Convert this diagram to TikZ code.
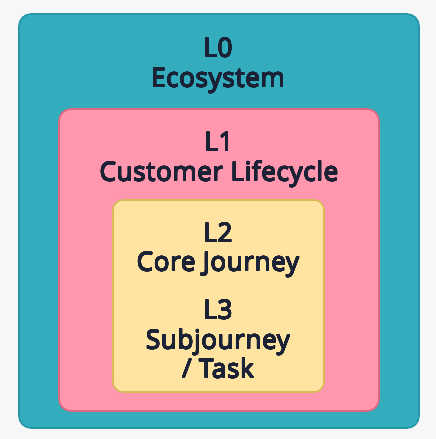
\documentclass[tikz,border=0pt]{standalone}
\usepackage{fontspec}
\usepackage[copies]{contour}
\contournumber{24}
\contourlength{0.35pt}
\setmainfont{Open Sans}
\newfontfamily\lblfont{Open Sans}[LetterSpace=2.5]
\definecolor{bgc}{HTML}{F7F7F7}
\definecolor{tealf}{HTML}{33ACBE}
\definecolor{teald}{HTML}{2596A8}
\definecolor{pinkf}{HTML}{FF97AE}
\definecolor{pinkd}{HTML}{E2677F}
\definecolor{yelf}{HTML}{FFE3A1}
\definecolor{yeld}{HTML}{D9BA55}
\definecolor{txt}{HTML}{1B2236}
\newcommand{\heavy}[1]{\contour{txt}{#1}}
\begin{document}
\begin{tikzpicture}[x=1pt,y=1pt,
  box/.style={rectangle,rounded corners=12pt,line width=1.6pt,inner sep=0pt},
  lbl/.style={anchor=base,text=txt,font=\lblfont\fontsize{26}{30}\selectfont,inner sep=0pt}]
\fill[bgc] (0,0) rectangle (436,439);
\useasboundingbox (0,0) rectangle (436,439);
\node[box,draw=teald,fill=tealf,minimum width=400pt,minimum height=414pt] (l0box) at (219,218) {};
\node[box,draw=pinkd,fill=pinkf,minimum width=320pt,minimum height=302pt] (l1box) at (219,179) {};
\node[box,rounded corners=10pt,draw=yeld,fill=yelf,minimum width=211pt,minimum height=192pt] (l2box) at (218.5,143) {};
\node[lbl] (t0a) at (218,382) {\heavy{L0}};
\node[lbl] (t0b) at (218,352) {\heavy{Ecosystem}};
\node[lbl] (t1a) at (219,288) {\heavy{L1}};
\node[lbl] (t1b) at (219,258) {\heavy{Customer Lifecycle}};
\node[lbl] (t2a) at (218,197) {\heavy{L2}};
\node[lbl] (t2b) at (218,168) {\heavy{Core Journey}};
\node[lbl] (t3a) at (218,120) {\heavy{L3}};
\node[lbl] (t3b) at (218,90) {\heavy{Subjourney}};
\node[lbl] (t3c) at (218,61) {\heavy{/ Task}};
\end{tikzpicture}
\end{document}
